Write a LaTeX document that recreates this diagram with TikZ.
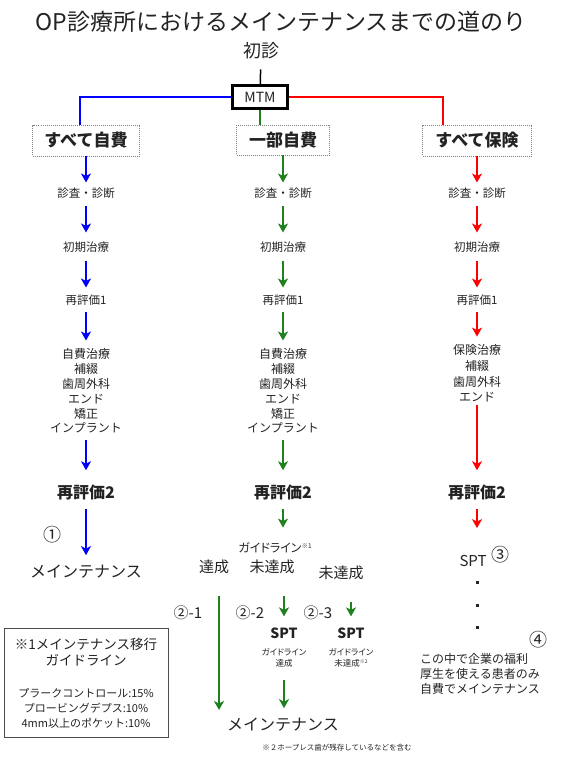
\documentclass[tikz,border=0pt]{standalone}
\usepackage{fontspec}
\setmainfont{Noto Sans CJK JP}
\newfontfamily\pf{Noto Sans CJK JP}[RawFeature=+palt]
\usetikzlibrary{arrows.meta}
\definecolor{bl}{RGB}{0,0,255}
\definecolor{gr}{RGB}{30,128,30}
\definecolor{rd}{RGB}{255,0,0}
\definecolor{tx}{RGB}{35,35,35}
\newcommand\myfs[1]{\fontsize{#1}{#1}\selectfont}
\begin{document}
\begin{tikzpicture}[x=1pt,y=-1pt,
  txt/.style={inner sep=0pt,text=tx},
  stp/.style={txt,font=\myfs{11.5}},
  blk/.style={txt,align=center,font=\fontsize{12}{14.8}\selectfont},
  big/.style={txt,font=\bfseries\myfs{16}},
  cat/.style={draw=gray,dash pattern=on 1pt off 1pt,line width=0.8pt,inner sep=0pt,text=tx,font=\bfseries\myfs{17}},
  ab/.style={line width=2.6pt,-{Stealth[length=9pt,width=10pt,inset=2.5pt]}},
  conn/.style={line width=2.7pt},
  circ/.style={txt,font=\myfs{18}},
  dotsq/.style={fill=tx,minimum size=3pt,inner sep=0pt}]
\path[use as bounding box] (0,0) rectangle (564,759);

% title
\node[txt,font=\myfs{23}] (title) at (281,22) {OP診療所におけるメインテナンスまでの道のり};
\node[txt,font=\myfs{18}] (shin) at (261,51) {初診};
\node[draw=black,line width=2.5pt,minimum width=55pt,minimum height=23pt,inner sep=0pt,text=tx,font=\myfs{14}] (mtm) at (260,97) {MTM};
\draw[line width=1.5pt] (shin) -- (mtm) [shorten <=10pt];

% category boxes
\node[cat,minimum width=107pt,minimum height=31pt] (c1) at (86,140.5) {すべて自費};
\node[cat,minimum width=93pt,minimum height=30pt] (c2) at (283,140) {一部自費};
\node[cat,minimum width=109pt,minimum height=31pt] (c3) at (477,140.5) {すべて保険};

\draw[conn,bl] (mtm.west) -| ([xshift=-6pt]c1.north);
\draw[conn,gr] (mtm.south) -- (mtm.south |- c2.north);
\draw[conn,rd] (mtm.east) -| ([xshift=-34pt]c3.north);

% step nodes
\foreach \i/\x in {1/86,2/283,3/477}{
  \node[stp] (d\i) at (\x,193) {診査・診断};
  \node[stp] (e\i) at (\x,247) {初期治療};
  \node[stp] (f\i) at (\x,300) {再評価1};
  \node[big] (h\i) at (\x,492) {再評価2};
}
\node[blk] (g1) at (86,391) {自費治療\\補綴\\歯周外科\\エンド\\矯正\\インプラント};
\node[blk] (g2) at (283,391) {自費治療\\補綴\\歯周外科\\エンド\\矯正\\インプラント};
\node[blk,font=\fontsize{12}{15.6}\selectfont] (g3) at (477,373.5) {保険治療\\補綴\\歯周外科\\エンド};

\foreach \i/\c in {1/bl,2/gr,3/rd}{
  \draw[ab,\c,shorten >=5pt] (c\i) -- (d\i);
  \draw[ab,\c,shorten <=7pt,shorten >=9pt] (d\i) -- (e\i);
  \draw[ab,\c,shorten <=8pt,shorten >=7pt] (e\i) -- (f\i);
  \draw[ab,\c,shorten <=7pt,shorten >=8pt] (f\i) -- (g\i);
}
\draw[ab,bl,shorten <=6pt,shorten >=14pt] (g1) -- (h1);
\draw[ab,gr,shorten <=6pt,shorten >=14pt] (g2) -- (h2);
\draw[ab,rd,shorten <=3pt,shorten >=14pt] (g3) -- (h3);

% blue end
\node[txt,font=\myfs{16}] (m1) at (86,572) {メインテナンス};
\node[circ] (n1) at (52,535) {①};
\draw[ab,bl,shorten <=9pt,shorten >=10pt] (h1) -- (m1);

% green lower part
\node[txt,font=\myfs{12}] (gl) at (275,548) {{\pf ガイドライン}\raisebox{4pt}{\myfs{6.5}※1}};
\draw[ab,gr,shorten <=9pt,shorten >=15pt] (h2) -- (h2 |- gl.north);
\node[txt,font=\myfs{15}] (tas) at (214,567) {達成};
\node[txt,font=\myfs{15}] (mit1) at (272,567) {未達成};
\node[txt,font=\myfs{15}] (mit2) at (341,573) {未達成};
\node[txt,font=\myfs{15}] (n21) at (188,613) {②-1};
\node[txt,font=\myfs{15}] (n22) at (250,613) {②-2};
\node[txt,font=\myfs{15}] (n23) at (318,613) {②-3};
\node[txt,font=\bfseries\myfs{14}] (spt2) at (284,633) {SPT};
\node[txt,font=\bfseries\myfs{14}] (spt2b) at (351,633) {SPT};
\node[txt,align=center,font=\pf\fontsize{8.5}{11}\selectfont] (ga2) at (284,657.5) {ガイドライン\\達成};
\node[txt,align=center,font=\pf\fontsize{8.5}{11}\selectfont] (ga3) at (351,657.5) {ガイドライン\\未達成\raisebox{2.5pt}{\myfs{5}※2}};
\node[txt,font=\myfs{16}] (m2) at (283,725) {メインテナンス};
\node[txt,font=\myfs{7.5}] (fn) at (337,748) {※２ホープレス歯が残存しているなどを含む};
\coordinate (e21) at (219,710);
\draw[ab,gr,shorten <=22pt] (tas.south -| e21) -- (e21);
\draw[ab,gr,shorten <=22pt,shorten >=11pt] (mit1.south -| spt2.north) -- (spt2.north);
\draw[ab,gr,shorten <=22pt,shorten >=11pt] (mit2.south -| spt2b.north) -- (spt2b.north);
\draw[ab,gr,shorten <=13pt,shorten >=10pt] (ga2.south) -- (ga2.south |- m2.north);

% red lower part
\node[txt,font=\myfs{15}] (spt3) at (473,561) {SPT};
\node[circ] (n3) at (500,555) {③};
\draw[ab,rd,shorten <=9pt,shorten >=27pt] (h3) -- (h3 |- spt3.north);
\node[dotsq] (dt1) at (477,582) {};
\node[dotsq] (dt2) at (477,605) {};
\node[dotsq] (dt3) at (477,627) {};
\node[circ] (n4) at (538,640) {④};
\node[txt,align=left,anchor=west,font=\fontsize{12}{15}\selectfont] (note) at (420,674) {この中で企業の福利\\厚生を使える患者のみ\\自費でメインテナンス};

% legend
\node[draw=black!70,line width=0.8pt,minimum width=164pt,minimum height=109pt,inner sep=0pt] (leg) at (86,682.5) {};
\node[txt,align=center,font=\fontsize{13.5}{16}\selectfont] (legA) at (86,652) {※1メインテナンス移行\\ガイドライン};
\node[txt,align=center,font=\fontsize{11}{15}\selectfont] (legB) at (86,708) {プラークコントロール:15\%\\プロービングデプス:10\%\\4mm以上のポケット:10\%};
\end{tikzpicture}
\end{document}
